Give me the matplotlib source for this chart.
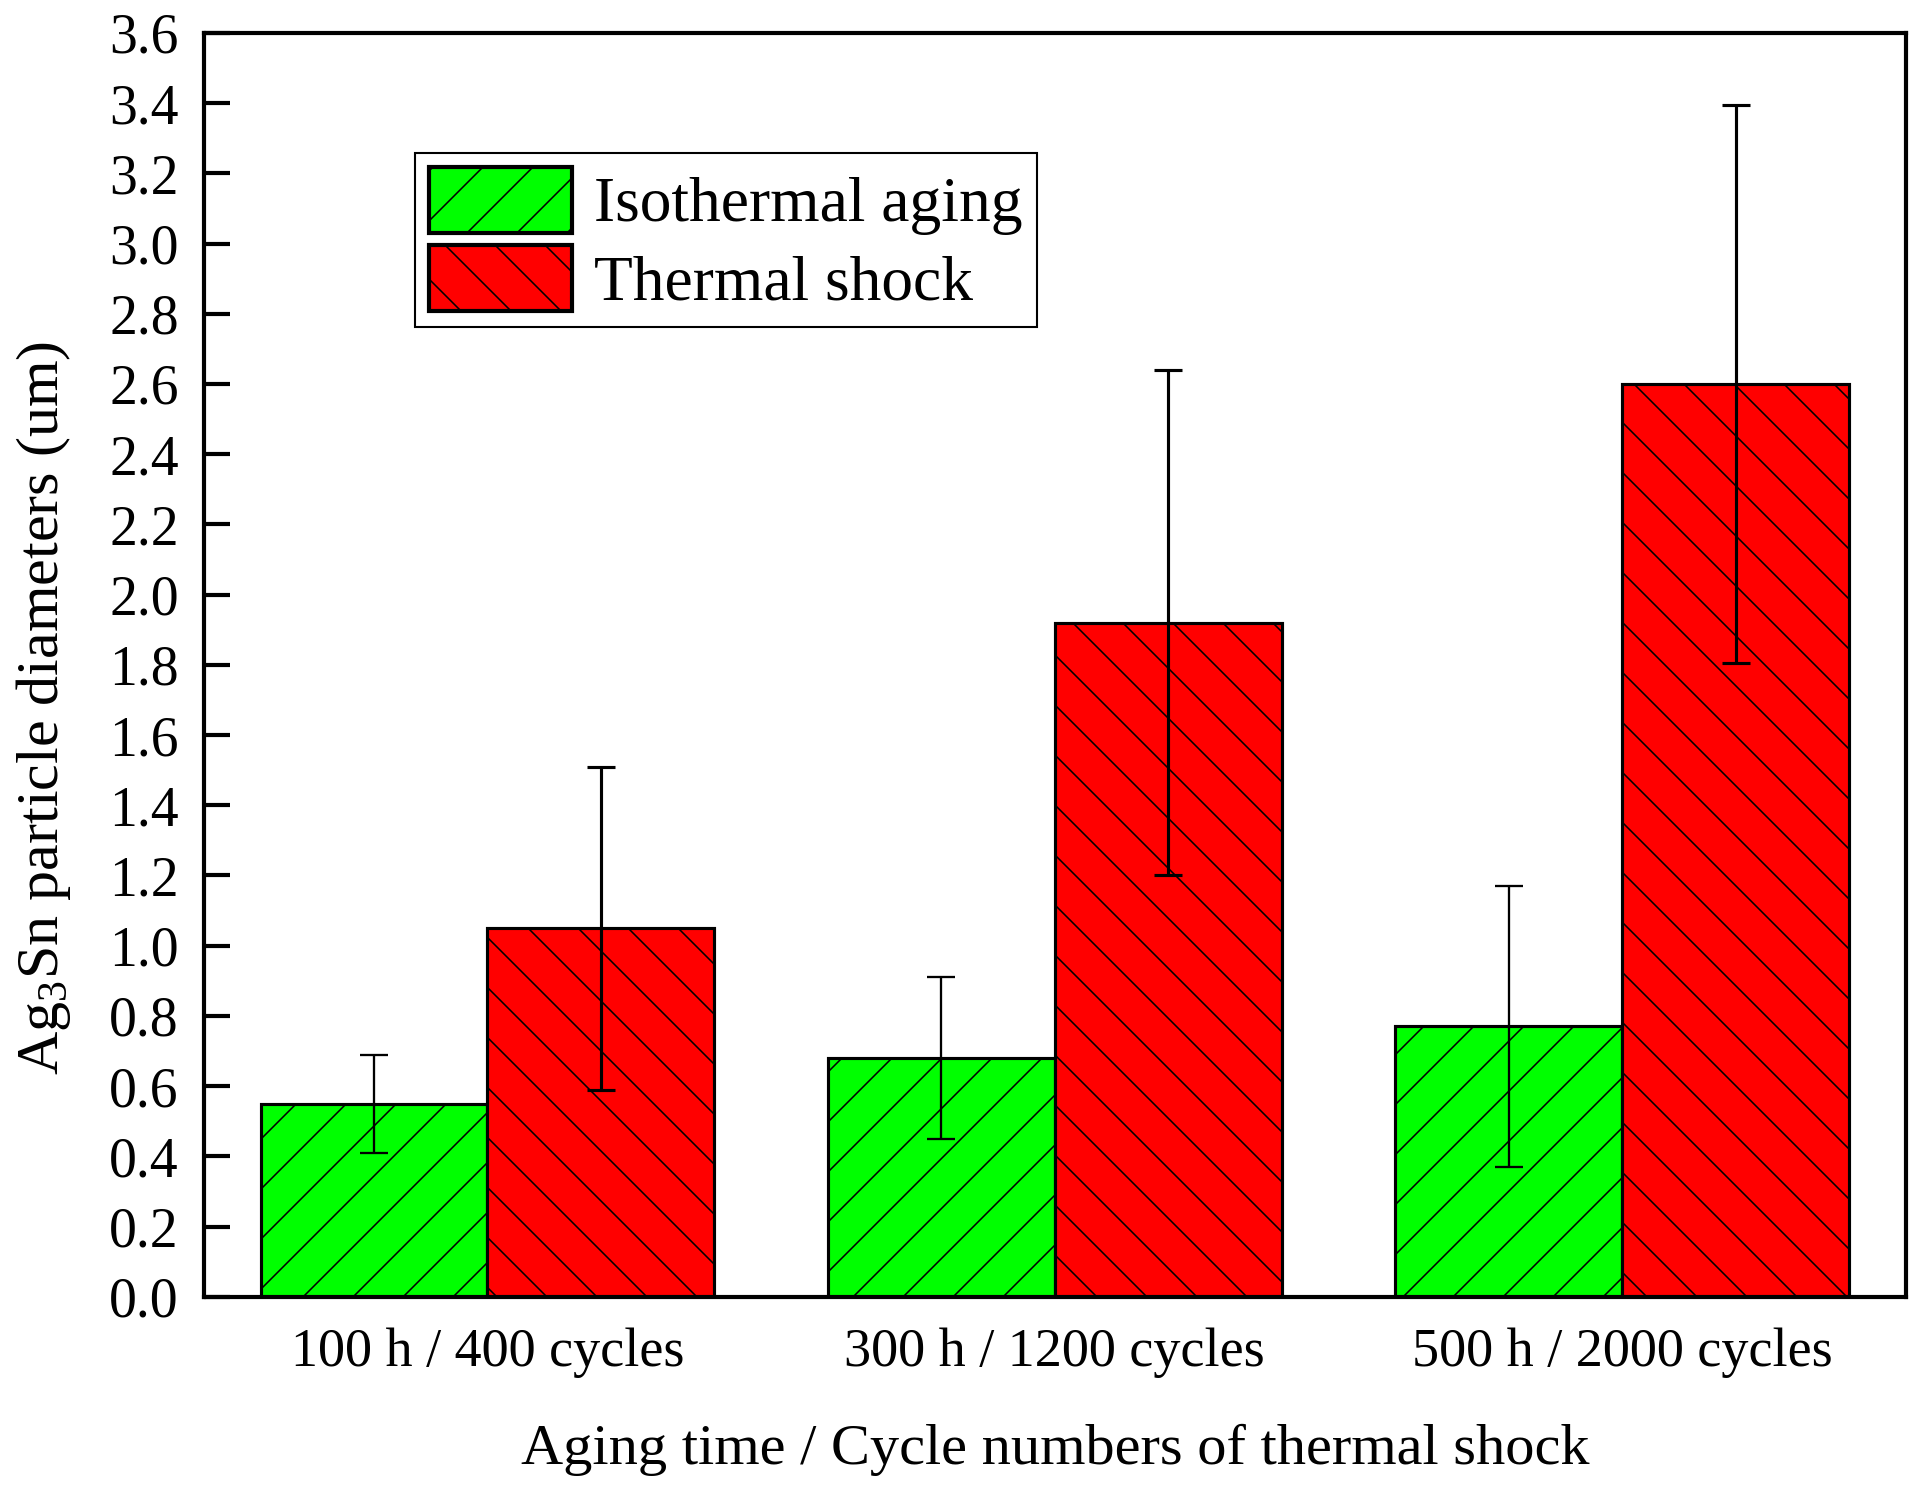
import numpy as np
import matplotlib
matplotlib.use('Agg')
import matplotlib.pyplot as plt

plt.rcParams['font.family'] = ['Liberation Serif', 'DejaVu Serif']
plt.rcParams['mathtext.fontset'] = 'custom'
plt.rcParams['mathtext.rm'] = 'Liberation Serif'
plt.rcParams['hatch.linewidth'] = 0.75

categories = ['100 h / 400 cycles', '300 h / 1200 cycles', '500 h / 2000 cycles']
aging = [0.55, 0.68, 0.77]
aging_err = [0.14, 0.23, 0.40]
shock = [1.05, 1.92, 2.60]
shock_err = [0.46, 0.72, 0.795]
yticks = [0.0, 0.2, 0.4, 0.6, 0.8, 1.0, 1.2, 1.4, 1.6, 1.8, 2.0, 2.2, 2.4, 2.6, 2.8, 3.0, 3.2, 3.4, 3.6]

fig = plt.figure(figsize=(12.82, 9.96), dpi=150)
ax = fig.add_axes([0.106, 0.132, 0.885, 0.846])

x = np.arange(1, len(categories) + 1)
w = 0.4
ax.bar(x - w / 2, aging, w, color='#00ff00', edgecolor='black', linewidth=1.5,
       hatch='/', label='Isothermal aging', zorder=2)
ax.bar(x + w / 2, shock, w, color='#ff0000', edgecolor='black', linewidth=1.5,
       hatch='\\', label='Thermal shock', zorder=2)
ax.errorbar(x - w / 2, aging, yerr=aging_err, fmt='none', ecolor='black',
            elinewidth=1.1, capsize=6.7, capthick=1.1, zorder=3)
ax.errorbar(x + w / 2, shock, yerr=shock_err, fmt='none', ecolor='black',
            elinewidth=1.5, capsize=6.7, capthick=1.5, zorder=3)

ax.set_xlim(0.5, 3.5)
ax.set_ylim(0, 3.6)
ax.set_yticks(yticks)
ax.set_yticklabels(['%.1f' % t for t in yticks])
ax.set_xticks(x)
ax.set_xticklabels(categories)
ax.tick_params(axis='y', direction='in', length=12.7, width=2.0, pad=12, labelsize=26.7)
ax.tick_params(axis='x', length=0, pad=14.5, labelsize=26)
for s in ax.spines.values():
    s.set_linewidth(2.0)

ax.set_xlabel('Aging time / Cycle numbers of thermal shock', fontsize=28, labelpad=22)
ax.set_ylabel('Ag$_3$Sn particle diameters (um)', fontsize=28.8)
ax.yaxis.set_label_coords(-0.077, 0.466)

leg = ax.legend(loc='upper left', bbox_to_anchor=(0.124, 0.905), fontsize=30.5,
                frameon=True, fancybox=False, edgecolor='black', framealpha=1,
                handlelength=2.25, handleheight=1.22, handletextpad=0.35,
                borderpad=0.22, labelspacing=0.15, borderaxespad=0)
leg.get_frame().set_linewidth(1.0)
for h in leg.legend_handles:
    h.set_linewidth(2.0)

fig.savefig('out.png', dpi=150)
